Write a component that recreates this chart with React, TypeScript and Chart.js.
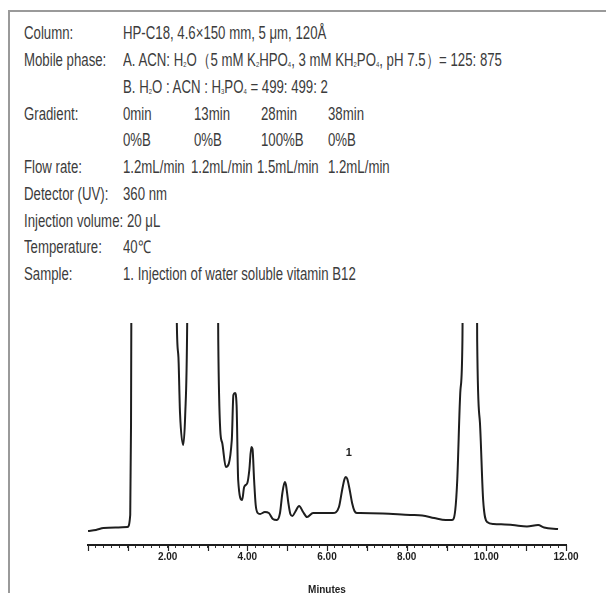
import React, { useEffect, useRef } from "react";
import { Chart, registerables } from "chart.js";

Chart.register(...registerables);

// Retention time (minutes) and detector signal (arbitrary units)
const TIME_MIN = [0, 0.2, 0.39, 0.69, 0.99, 1.06, 1.08, 1.1, 1.14, 2.17, 2.23, 2.27, 2.31, 2.39, 2.44, 2.49, 2.53, 3.22, 3.27, 3.32, 3.37, 3.46, 3.61, 3.65, 3.69, 3.73, 3.77, 3.87, 3.92, 4.0, 4.05, 4.1, 4.13, 4.17, 4.21, 4.26, 4.32, 4.44, 4.54, 4.64, 4.74, 4.82, 4.88, 4.94, 4.97, 5.03, 5.08, 5.13, 5.2, 5.3, 5.4, 5.5, 5.65, 6.15, 6.3, 6.38, 6.44, 6.47, 6.51, 6.57, 6.63, 6.69, 6.75, 6.83, 7.4, 8.09, 8.39, 8.69, 8.98, 9.14, 9.22, 9.27, 9.35, 9.4, 9.44, 9.73, 9.77, 9.84, 9.92, 10.02, 10.18, 10.66, 11.02, 11.3, 11.45, 11.8];
const SIGNAL = [14, 15, 17, 17.5, 18, 30, 120, 400, 600, 600, 222, 188, 132, 100, 130, 222, 500, 500, 205, 115, 102, 78, 105, 150, 152, 140, 65, 45, 58, 62, 75, 98, 96, 65, 40, 32, 31, 33, 32, 26, 25, 32, 52, 63, 60, 42, 31, 29, 33, 39, 33, 28, 32, 32, 38, 55, 66, 68, 66, 55, 42, 34, 32, 32, 31.5, 30, 29.5, 27, 25, 25, 35, 65, 155, 205, 600, 600, 205, 122, 45, 23, 21, 20, 18.5, 20, 17.5, 16];

// Axis settings
const X_MIN = 0;
const X_MAX = 12;
const X_STEP = 0.2;
const Y_MIN = 0;
const Y_MAX = 222;

// Peak annotation
const PEAK_TEXT = ["1"];
const PEAK_TIME = [6.55];
const PEAK_SIGNAL = [92];

const GRADIENT_TIMES = ["0min", "13min", "28min", "38min"];
const GRADIENT_B = ["0%B", "0%B", "100%B", "0%B"];
const FLOW_RATES = ["1.2mL/min", "1.2mL/min", "1.5mL/min", "1.2mL/min"];

const TEXT_FONT = '"Liberation Sans", Arial, sans-serif';
const TEXT_COLOR = "#3c3c3c";

const peakLabelPlugin = {
  id: "peakLabels",
  afterDatasetsDraw(chart: any) {
    const { ctx, scales } = chart;
    ctx.save();
    ctx.fillStyle = "#222";
    ctx.font = "bold 11px Arial, 'Liberation Sans', sans-serif";
    ctx.textAlign = "center";
    ctx.textBaseline = "middle";
    PEAK_TEXT.forEach((t, i) => {
      ctx.fillText(t, scales.x.getPixelForValue(PEAK_TIME[i]), scales.y.getPixelForValue(PEAK_SIGNAL[i]));
    });
    ctx.restore();
  },
};

const majorTickPlugin = {
  id: "majorTicks",
  afterDraw(chart: any) {
    const { ctx, scales, chartArea } = chart;
    const xs = scales.x;
    ctx.save();
    ctx.strokeStyle = "#222";
    ctx.lineWidth = 1.2;
    for (let v = X_MIN; v <= X_MAX; v += 1) {
      const px = Math.round(xs.getPixelForValue(v)) + 0.5;
      ctx.beginPath();
      ctx.moveTo(px, chartArea.bottom);
      ctx.lineTo(px, chartArea.bottom + 6);
      ctx.stroke();
    }
    ctx.restore();
  },
};

function Row({ top, label, children }: { top: number; label?: string; children?: React.ReactNode }) {
  return (
    <div style={{ position: "absolute", top, left: 0, width: 600, height: 22 }}>
      {label && <Cell left={16}>{label}</Cell>}
      {children}
    </div>
  );
}

function Cell({ left, children }: { left: number; children: React.ReactNode }) {
  return (
    <div
      style={{
        position: "absolute",
        left,
        top: 0,
        whiteSpace: "nowrap",
        fontFamily: TEXT_FONT,
        fontSize: 17.5,
        lineHeight: "22px",
        color: TEXT_COLOR,
        transform: "scaleX(0.755)",
        transformOrigin: "left center",
      }}
    >
      {children}
    </div>
  );
}

const sub: React.CSSProperties = { fontSize: "0.45em", verticalAlign: "-0.15em", lineHeight: 0 };

export default function App() {
  const canvasRef = useRef<HTMLCanvasElement | null>(null);

  useEffect(() => {
    if (!canvasRef.current) return;
    const chart = new Chart(canvasRef.current, {
      type: "line",
      data: {
        datasets: [
          {
            data: TIME_MIN.map((t, i) => ({ x: t, y: SIGNAL[i] })),
            borderColor: "#1e1e1e",
            borderWidth: 2,
            pointRadius: 0,
            cubicInterpolationMode: "monotone",
            fill: false,
          },
        ],
      },
      options: {
        animation: false,
        responsive: false,
        maintainAspectRatio: false,
        events: [],
        layout: { padding: { left: 40, right: 42, top: 23, bottom: 0 } },
        plugins: { legend: { display: false }, tooltip: { enabled: false }, title: { display: false } },
        scales: {
          x: {
            type: "linear",
            min: X_MIN,
            max: X_MAX,
            afterFit: (s: any) => {
              s.height = 55;
            },
            border: { display: true, color: "#1e1e1e", width: 2 },
            grid: { display: true, drawOnChartArea: false, drawTicks: true, tickLength: 3, tickColor: "#333", tickWidth: 1 },
            ticks: {
              stepSize: X_STEP,
              autoSkip: false,
              maxRotation: 0,
              padding: 3,
              color: "#1e1e1e",
              font: { family: "Arial, 'Liberation Sans', sans-serif", size: 10, weight: "bold" },
              callback: (v: any) => {
                const n = Number(v);
                const r = Math.round(n);
                return Math.abs(n - r) < 1e-6 && r > 0 && r % 2 === 0 ? r.toFixed(2) : "";
              },
            },
            title: {
              display: true,
              text: "Minutes",
              color: "#1e1e1e",
              font: { family: "Arial, 'Liberation Sans', sans-serif", size: 10, weight: "bold" },
              padding: { top: 0, bottom: 4 },
            },
          },
          y: { display: false, min: Y_MIN, max: Y_MAX },
        },
      },
      plugins: [peakLabelPlugin, majorTickPlugin],
    });
    return () => chart.destroy();
  }, []);

  return (
    <div style={{ position: "relative", width: 598, height: 585, background: "#fff" }}>
      <div
        style={{
          position: "absolute",
          left: 0,
          top: 2,
          width: 620,
          height: 600,
          borderLeft: "2px solid #9a9a9a",
          borderTop: "2px solid #9a9a9a",
          boxSizing: "border-box",
        }}
      />
      <Row top={14} label="Column:">
        <Cell left={115}>HP-C18, 4.6×150 mm, 5 μm, 120Å</Cell>
      </Row>
      <Row top={41} label="Mobile phase:">
        <Cell left={115}>
          A. ACN: H<sub style={sub}>2</sub>O（5 mM K<sub style={sub}>2</sub>HPO<sub style={sub}>4</sub>, 3 mM KH
          <sub style={sub}>2</sub>PO<sub style={sub}>4</sub>, pH 7.5）= 125: 875
        </Cell>
      </Row>
      <Row top={68}>
        <Cell left={115}>
          B. H<sub style={sub}>2</sub>O : ACN : H<sub style={sub}>3</sub>PO<sub style={sub}>4</sub> = 499: 499: 2
        </Cell>
      </Row>
      <Row top={95} label="Gradient:">
        {GRADIENT_TIMES.map((g, i) => (
          <Cell key={g} left={[115, 186, 253, 320][i]}>
            {g}
          </Cell>
        ))}
      </Row>
      <Row top={121}>
        {GRADIENT_B.map((g, i) => (
          <Cell key={i} left={[115, 186, 253, 320][i]}>
            {g}
          </Cell>
        ))}
      </Row>
      <Row top={148} label="Flow rate:">
        {FLOW_RATES.map((f, i) => (
          <Cell key={i} left={[115, 183, 249, 320][i]}>
            {f}
          </Cell>
        ))}
      </Row>
      <Row top={175} label="Detector (UV):">
        <Cell left={115}>360 nm</Cell>
      </Row>
      <Row top={202} label="Injection volume:">
        <Cell left={119}>20 μL</Cell>
      </Row>
      <Row top={228} label="Temperature:">
        <Cell left={115}>40℃</Cell>
      </Row>
      <Row top={255} label="Sample:">
        <Cell left={115}>1. Injection of water soluble vitamin B12</Cell>
      </Row>
      <canvas
        ref={canvasRef}
        width={560}
        height={300}
        style={{ position: "absolute", left: 40, top: 292, width: 560, height: 300 }}
      />
    </div>
  );
}
